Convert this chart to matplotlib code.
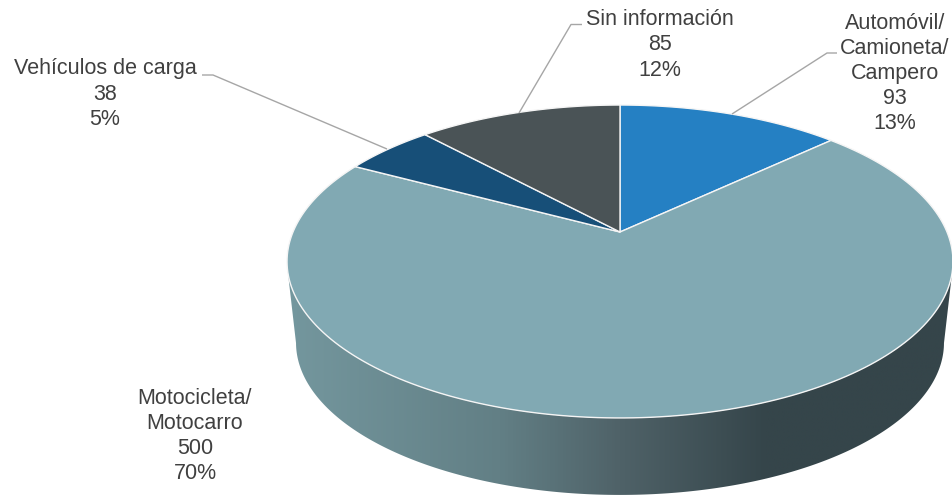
import numpy as np
import matplotlib
matplotlib.use("Agg")
import matplotlib.pyplot as plt
from matplotlib.colors import LinearSegmentedColormap
from matplotlib.patches import Polygon

categories = ["Automóvil/\nCamioneta/\nCampero", "Motocicleta/\nMotocarro", "Vehículos de carga", "Sin información"]
values = [93, 500, 38, 85]
percents = ["13%", "70%", "5%", "12%"]
slice_colors = ["#2580C3", "#81A9B3", "#174F78", "#4A5356"]

plt.rcParams["font.family"] = ["Liberation Sans", "DejaVu Sans"]
fig = plt.figure(figsize=(9.53, 4.95), dpi=100)
ax = fig.add_axes([0, 0, 1, 1])
ax.set_xlim(0, 953)
ax.set_ylim(495, 0)
ax.axis("off")

CX, CY, A, B, K = 620.0, 232.0, 327.0, 150.9, 0.1885


def ring(theta, scale=1.0, dy=0.0):
    """Perspective view of a circle; theta runs clockwise from 12 o'clock."""
    u, v = np.sin(theta), -np.cos(theta)
    d = 1 - K * v
    return np.column_stack((CX + scale * A * u / d, CY + dy + scale * B * v / d))


# side wall with a horizontal gradient
t_top = np.linspace(np.pi / 2 + np.radians(15), 3 * np.pi / 2 - np.radians(15), 300)
t_bot = np.linspace(np.pi / 2 + np.radians(11), 3 * np.pi / 2 - np.radians(11), 300)
side_pts = np.vstack((ring(t_top), ring(t_bot, 0.973, 82.0)[::-1]))
side = Polygon(side_pts, closed=True, fc="none", ec="none")
ax.add_patch(side)
cmap = LinearSegmentedColormap.from_list(
    "side",
    [(0.0, "#74979E"), (0.32, "#627F85"), (0.5, "#4F6268"), (0.72, "#35454A"), (1.0, "#35454A")],
)
im = ax.imshow(np.linspace(0, 1, 512)[None, :], cmap=cmap, extent=(287, 953, 495, 200),
               aspect="auto", zorder=1, interpolation="bilinear")
im.set_clip_path(side)
ax.set_xlim(0, 953)
ax.set_ylim(495, 0)

# top face slices, clockwise from 12 o'clock
edges = np.concatenate(([0.0], np.cumsum(values))) / np.sum(values) * 2 * np.pi
for a0, a1, col in zip(edges[:-1], edges[1:], slice_colors):
    th = np.linspace(a0, a1, 200)
    pts = np.vstack(([[CX, CY]], ring(th)))
    ax.add_patch(Polygon(pts, closed=True, fc=col, ec="#F5F5F5", lw=1.0, zorder=2, joinstyle="round"))

# leader lines
LINE = "#A6A6A6"
leaders = [
    ([732, 827, 837], [114, 53, 53]),
    ([387, 213, 202], [149, 75, 75]),
    ([519, 571, 582], [113, 24.5, 24.5]),
]
for xs, ys in leaders:
    ax.plot(xs, ys, color=LINE, lw=1.0, zorder=3, solid_capstyle="butt")

# data labels
label_pos = [(895, 73.5), (195, 436), (105, 94), (660, 45)]
for cat, val, pct, (x, y) in zip(categories, values, percents, label_pos):
    ax.text(x, y, f"{cat}\n{val}\n{pct}", ha="center", va="center", multialignment="center",
            fontsize=15.5, color="#404040", linespacing=1.26, zorder=4)

fig.savefig("out.png", dpi=100)
